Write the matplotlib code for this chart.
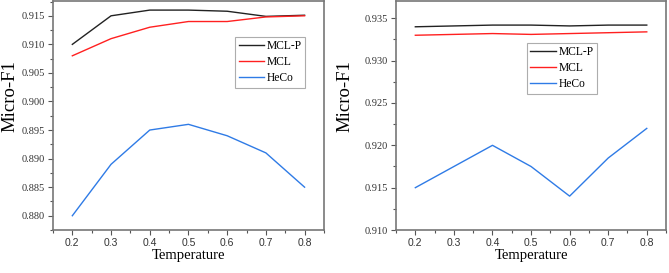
import numpy as np
import matplotlib
matplotlib.use("Agg")
import matplotlib.pyplot as plt
from matplotlib.ticker import MultipleLocator, FormatStrFormatter

# ── DATA ───────────────────────────────────────────────────────────────────────
temperature = [0.2, 0.3, 0.4, 0.5, 0.6, 0.7, 0.8]

left_mclp = [0.910, 0.915, 0.916, 0.916, 0.9158, 0.9149, 0.9151]
left_mcl  = [0.908, 0.911, 0.913, 0.914, 0.914, 0.9148, 0.9150]
left_heco = [0.880, 0.889, 0.895, 0.896, 0.894, 0.891, 0.885]

right_mclp = [0.9340, 0.9341, 0.9342, 0.9342, 0.9341, 0.9342, 0.9342]
right_mcl  = [0.9330, 0.9331, 0.9332, 0.9331, 0.9332, 0.9333, 0.9334]
right_heco = [0.9150, 0.9175, 0.9200, 0.9175, 0.9140, 0.9185, 0.9220]

series_names = ["MCL-P", "MCL", "HeCo"]
COLORS = ["#222222", "#ff2020", "#2f7be6"]

plt.rcParams["font.family"] = ["Liberation Serif", "DejaVu Serif"]

fig = plt.figure(figsize=(6.69, 2.73), dpi=100)
fig.patch.set_facecolor("#ffffff")

ax_l = fig.add_axes([0.0792, 0.1575, 0.405, 0.839])
ax_r = fig.add_axes([0.592, 0.1575, 0.4036, 0.839])


def style_axes(ax, ylim, ymajor, ylabel_x):
    ax.set_xlim(0.15, 0.85)
    ax.set_ylim(*ylim)
    ax.xaxis.set_major_locator(MultipleLocator(0.1))
    ax.xaxis.set_minor_locator(MultipleLocator(0.05))
    ax.yaxis.set_major_locator(MultipleLocator(ymajor))
    ax.yaxis.set_minor_locator(MultipleLocator(ymajor / 2))
    ax.xaxis.set_major_formatter(FormatStrFormatter("%.1f"))
    ax.yaxis.set_major_formatter(FormatStrFormatter("%.3f"))
    ax.tick_params(which="major", direction="out", length=3.5, width=0.8,
                   color="#555555", labelsize=7.5, labelcolor="#333333",
                   pad=2.5)
    ax.tick_params(which="minor", direction="out", length=2, width=0.8,
                   color="#555555")
    for lbl in ax.get_xticklabels():
        lbl.set_family(["Liberation Sans", "DejaVu Sans"])
    for side in ["left", "bottom", "top", "right"]:
        ax.spines[side].set_color("#777777")
        ax.spines[side].set_linewidth(1.2)
    ax.set_xlabel("Temperature", fontsize=10.5, va="center")
    ax.set_ylabel("Micro-F1", fontsize=13.5, va="center")
    ax.xaxis.set_label_coords(0.5, -0.11)
    ax.yaxis.set_label_coords(ylabel_x, 0.585)


for ax, ys in [(ax_l, [left_mclp, left_mcl, left_heco]),
               (ax_r, [right_mclp, right_mcl, right_heco])]:
    for name, y, c in zip(series_names, ys, COLORS):
        ax.plot(temperature, y, color=c, lw=1.0, label=name)

style_axes(ax_l, (0.8775, 0.9176), 0.005, -0.158)
style_axes(ax_r, (0.910, 0.93705), 0.005, -0.19)

for ax, anchor in [(ax_l, (0.672, 0.843)), (ax_r, (0.485, 0.817))]:
    leg = ax.legend(loc="upper left", bbox_to_anchor=anchor, fontsize=8.3,
                    frameon=True, fancybox=False, handlelength=2.2,
                    handletextpad=0.25, borderpad=0.3, labelspacing=0.35,
                    borderaxespad=0)
    leg.get_frame().set_edgecolor("#999999")
    leg.get_frame().set_linewidth(0.8)

fig.savefig("out.png", dpi=100)
